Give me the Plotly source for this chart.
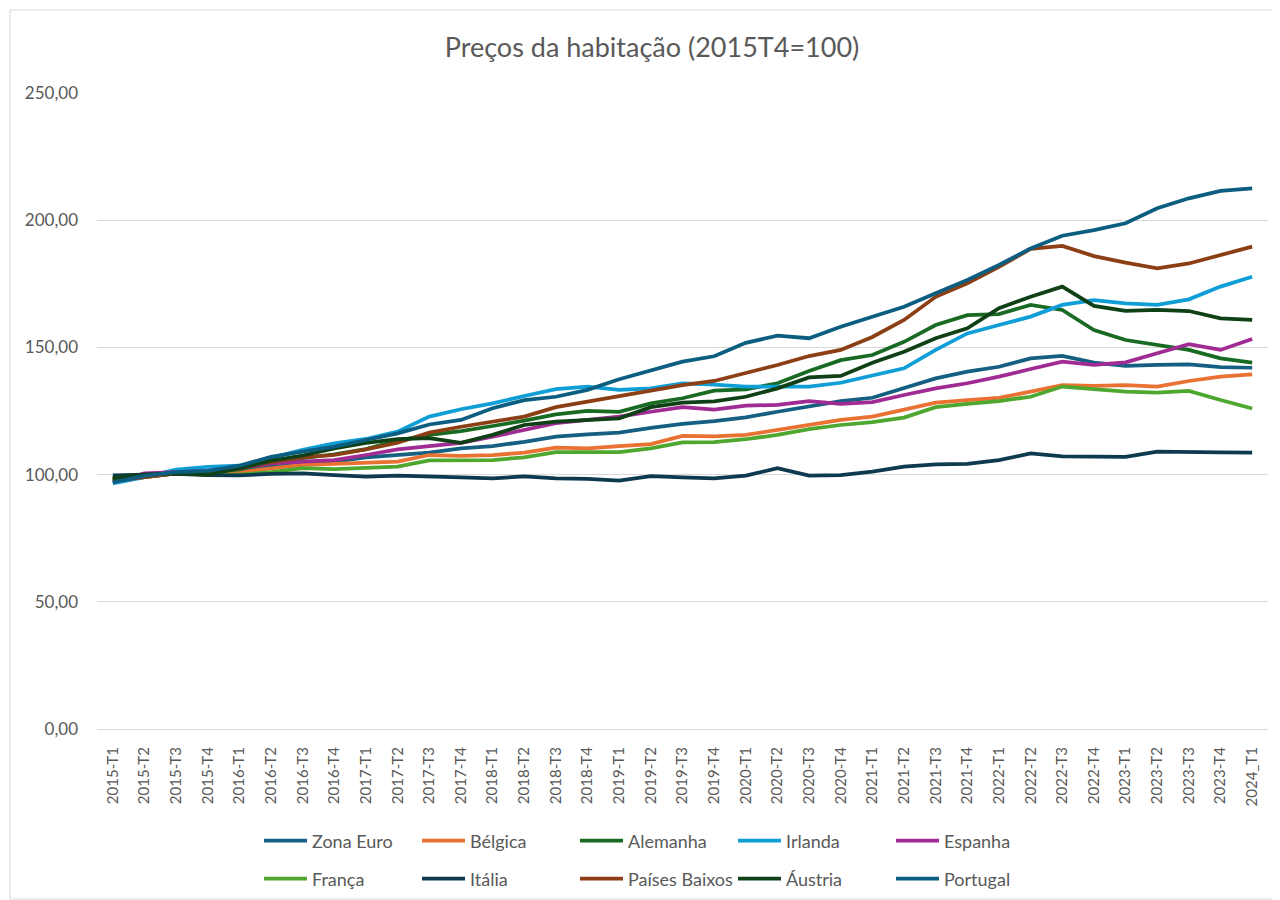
import plotly.graph_objects as go

quarters = [f"{y}-T{q}" for y in range(2015, 2024) for q in range(1, 5)] + ["2024_T1"]

zona_euro = [98, 99.5, 100.5, 100.5, 101.5, 103, 104, 105.1, 106.8, 107.7, 108.6, 110.3, 111.2,
             112.9, 114.9, 115.8, 116.5, 118.4, 119.9, 121, 122.5, 124.7, 126.7, 128.9, 130.2,
             133.9, 137.8, 140.5, 142.4, 145.7, 146.7, 144, 142.7, 143.1, 143.3, 142.2, 142]
belgica = [98.5, 99, 100.5, 100, 101, 102.5, 103.8, 104.2, 104.7, 105.1, 107.7, 107.4, 107.7,
           108.6, 110.6, 110.3, 111.2, 112, 115.2, 115, 115.6, 117.5, 119.5, 121.5, 122.8,
           125.4, 128.3, 129.3, 130.2, 132.6, 135.2, 134.9, 135.2, 134.6, 136.8, 138.5, 139.4]
alemanha = [98, 99, 100.5, 101, 102, 104.5, 106.5, 108, 110, 113.4, 115.6, 117.1, 119.1,
            121.2, 123.7, 125, 124.7, 128, 130, 133, 133.5, 135.9, 140.7, 145, 147,
            152.2, 158.8, 162.7, 163.1, 166.7, 164.7, 156.8, 152.9, 150.9, 149, 145.7, 144]
irlanda = [96.5, 99, 102, 103, 103.5, 106.5, 109.7, 112.3, 114, 116.9, 122.8, 125.7, 128,
           130.9, 133.6, 134.6, 133.3, 133.9, 135.9, 135.4, 134.6, 134.6, 134.6, 136.1, 138.8,
           141.8, 149, 155.5, 158.8, 162.1, 166.7, 168.6, 167.3, 166.7, 168.9, 173.9, 177.8]
espanha = [97, 100.5, 101, 101.5, 102.5, 104.4, 105.1, 105.7, 107.7, 109.9, 111.2, 112.5, 114.9,
           117.5, 120.2, 121.5, 122.8, 124.7, 126.5, 125.5, 127.1, 127.4, 128.9, 127.8, 128.5,
           131.3, 133.9, 135.9, 138.5, 141.5, 144.4, 143.1, 144.1, 147.7, 151.3, 149, 153.3]
franca = [98.5, 99.5, 100.5, 100, 100, 101, 102.5, 102.2, 102.5, 103.1, 105.6, 105.5, 105.7,
          106.8, 108.8, 108.8, 108.8, 110.3, 112.7, 112.8, 113.9, 115.6, 117.9, 119.5, 120.6,
          122.4, 126.5, 127.8, 128.9, 130.6, 134.6, 133.6, 132.6, 132.2, 132.9, 129.3, 126]
italia = [99.7, 100, 100.3, 99.8, 99.7, 100.3, 100.5, 99.8, 99.2, 99.6, 99.4, 98.9, 98.5,
          99.3, 98.5, 98.3, 97.6, 99.4, 98.9, 98.5, 99.6, 102.5, 99.6, 99.8, 101.2,
          103.1, 104, 104.2, 105.7, 108.3, 107.2, 107, 107, 109, 108.7, 108.7, 108.6]
paises_baixos = [97.5, 99, 100.5, 101, 103, 105, 106.8, 107.7, 109.9, 112.5, 116.5, 118.8, 120.8,
                 122.8, 126.5, 128.7, 130.6, 132.9, 135.2, 136.8, 139.8, 143.1, 146.6, 149, 154.1,
                 160.8, 169.9, 175.2, 181.7, 188.7, 189.9, 185.9, 183.3, 181.1, 183, 186.3, 189.6]
austria = [98.5, 100, 100.5, 100, 102.5, 105.5, 107.5, 110.3, 112.5, 113.9, 114.3, 112.5, 115.6,
           119.5, 120.8, 121.5, 122.1, 126.5, 128.3, 128.8, 130.6, 133.9, 138.2, 138.8, 144,
           148.3, 153.6, 157.5, 165.4, 169.9, 173.9, 166.3, 164.4, 164.7, 164.3, 161.4, 160.8]
portugal = [97, 99.5, 101, 101.5, 103.5, 107, 109, 111, 113.6, 116.2, 119.7, 121.5, 126.1,
            129.3, 130.6, 133.3, 137.5, 141.1, 144.4, 146.5, 151.8, 154.6, 153.6, 158.1, 162.1,
            166, 171.3, 176.5, 182.4, 188.9, 193.9, 196.1, 198.8, 204.7, 208.6, 211.5, 212.5]

series = [
    ("Zona Euro", zona_euro, "#156082", "legend"),
    ("Bélgica", belgica, "#E97132", "legend"),
    ("Alemanha", alemanha, "#196B24", "legend"),
    ("Irlanda", irlanda, "#0F9ED5", "legend"),
    ("Espanha", espanha, "#A02B93", "legend"),
    ("França", franca, "#4EA72E", "legend2"),
    ("Itália", italia, "#0D3A4E", "legend2"),
    ("Países Baixos", paises_baixos, "#8C3F14", "legend2"),
    ("Áustria", austria, "#0F4016", "legend2"),
    ("Portugal", portugal, "#0B5E80", "legend2"),
]

font = "Lato, 'Open Sans', sans-serif"
grey = "#595959"

# page has an 8px body margin, so figure coords = page coords - 8
W, H = 1272, 892
L, T, PW, PH = 89, 85, 1171, 636

fig = go.Figure()
for name, vals, color, leg in series:
    fig.add_trace(go.Scatter(x=quarters, y=vals, name=name, mode="lines",
                             line=dict(color=color, width=3.75), legend=leg))

legend_common = dict(orientation="h", xref="container", yref="container",
                     xanchor="left", yanchor="middle", itemwidth=43, entrywidth=100,
                     font=dict(family=font, size=18, color=grey), bgcolor="rgba(0,0,0,0)")

fig.update_layout(
    width=W, height=H,
    margin=dict(l=L, r=W - L - PW, t=T, b=H - T - PH),
    paper_bgcolor="white", plot_bgcolor="white",
    separators=", ",
    font=dict(family=font, color=grey),
    title=dict(text="Preços da habitação (2015T4=100)", x=644 / W, xanchor="center",
               y=1 - 40 / H, yanchor="middle",
               font=dict(family=font, size=27, color=grey)),
    legend=dict(x=251 / W, y=1 - 833 / H, **legend_common),
    legend2=dict(x=251 / W, y=1 - 871 / H, **legend_common),
    xaxis=dict(type="category", range=[-0.5, 36.5], tickangle=-90,
               tickfont=dict(family=font, size=15, color=grey),
               showgrid=False, showline=True, linecolor="#D9D9D9", linewidth=1.3,
               ticks="", ticklabelstandoff=11),
    yaxis=dict(range=[0, 250], dtick=50, tickformat=".2f",
               tickfont=dict(family=font, size=17, color=grey),
               showgrid=True, gridcolor="#D9D9D9", gridwidth=1.3,
               zeroline=False, showline=False, ticklabelstandoff=18),
    shapes=[dict(type="rect", xref="paper", yref="paper",
                 x0=(2 - L) / PW, x1=(1271 - L) / PW,
                 y0=-(891 - (T + PH)) / PH, y1=1 + (T - 2) / PH,
                 line=dict(color="#D9D9D9", width=1), fillcolor="rgba(0,0,0,0)")],
)

fig.write_html("out.html")
